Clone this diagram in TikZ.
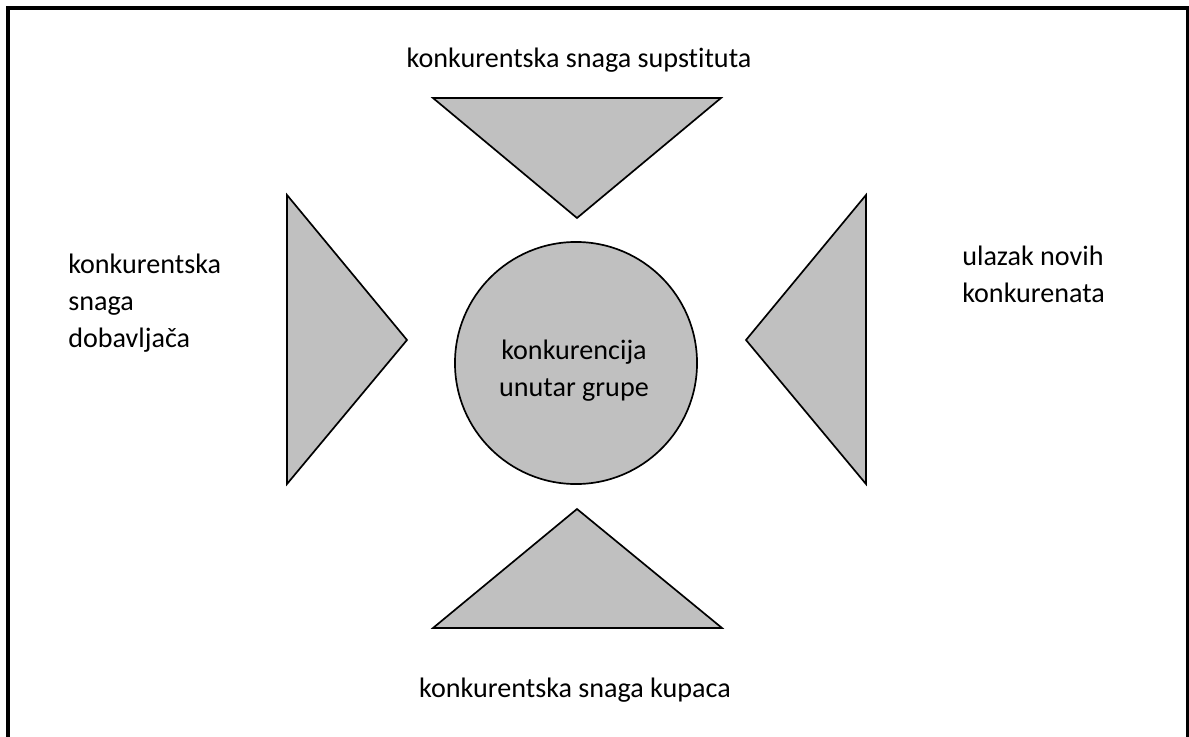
\documentclass[tikz,border=0pt]{standalone}
\usepackage{fontspec}
\setmainfont{Carlito}[Ligatures=NoCommon]
\definecolor{forcegray}{HTML}{C0C0C0}
\tikzset{
  force/.style={draw=black, line width=1.2pt, fill=forcegray},
  lbl/.style={font=\fontsize{20}{26.5}\selectfont, inner sep=0pt},
}
\begin{document}
\begin{tikzpicture}[x=0.025cm, y=-0.025cm]
  \useasboundingbox (0,0) rectangle (1189,736);
  % Frame
  \draw[line width=2.2pt] (8,745) -- (8,8) -- (1188,8) -- (1188,745);
  % Corners of the forces
  \coordinate (top1) at (433,98);  \coordinate (top2) at (721,98);  \coordinate (top3) at (577,218);
  \coordinate (bot1) at (433,628); \coordinate (bot2) at (722,628); \coordinate (bot3) at (577,509);
  \coordinate (lft1) at (287,195); \coordinate (lft2) at (287,484); \coordinate (lft3) at (407,340);
  \coordinate (rgt1) at (866,195); \coordinate (rgt2) at (866,484); \coordinate (rgt3) at (746,340);
  % Forces
  \foreach \s in {top, bot, lft, rgt} {
    \filldraw[force] (\s1) -- (\s2) -- (\s3) -- cycle;
  }
  % Centre
  \node[circle, force, minimum size=6.05cm, inner sep=0pt] (rivalry) at (576,363) {};
  \node[lbl, align=center] (rivalrytxt) at (574,371) {konkurencija\\unutar grupe};
  % Labels
  \node[lbl] (subst) at (579,60) {konkurentska snaga supstituta};
  \node[lbl] (buyers) at (575,690) {konkurentska snaga kupaca};
  \node[lbl, align=left, anchor=west] (suppl) at (68,303) {konkurentska\\snaga\\dobavljača};
  \node[lbl, align=left, anchor=west] (entry) at (962,274) {ulazak novih\\konkurenata};
\end{tikzpicture}
\end{document}
